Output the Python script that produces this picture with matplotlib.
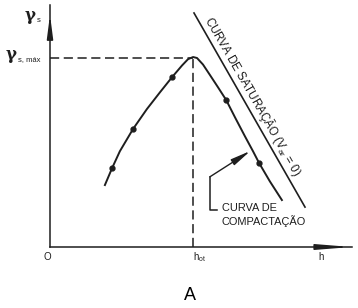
import matplotlib
matplotlib.use("Agg")
import matplotlib.pyplot as plt

plt.rcParams['font.family'] = ['Liberation Sans', 'DejaVu Sans']
plt.rcParams['mathtext.fontset'] = 'custom'
plt.rcParams['mathtext.rm'] = 'Liberation Sans'
plt.rcParams['mathtext.it'] = 'Liberation Sans:italic'

# compaction curve (h, gamma_s), schematic units
h_curve = [1.83, 2.07, 2.33, 2.77, 3.23, 3.67, 4.07, 4.40, 4.60, 4.77, 4.90,
           5.10, 5.33, 5.60, 5.87, 6.17, 6.50, 6.77, 6.97, 7.33, 7.73]
g_curve = [2.56, 3.26, 3.96, 4.88, 5.70, 6.40, 7.02, 7.50, 7.76, 7.85, 7.81,
           7.54, 7.11, 6.60, 6.08, 5.35, 4.57, 3.95, 3.47, 2.71, 1.94]
# measured points on the curve
h_pts = [2.07, 2.77, 4.07, 5.87, 6.97]
g_pts = [3.26, 4.88, 7.02, 6.08, 3.47]
# saturation line (Var = 0)
h_sat = [4.80, 8.50]
g_sat = [9.67, 1.65]
# optimum
h_ot = 4.77
g_max = 7.82

ink = '#1e1e1e'

fig = plt.figure(figsize=(3.58, 3.08), dpi=100)
ax = fig.add_axes([50 / 358, 61 / 308, 300 / 358, 242 / 308])
ax.set_xlim(0, 10)
ax.set_ylim(0, 10)
ax.axis('off')

# axes with arrows
ax.plot([0, 0], [0, 10], color=ink, lw=1.1, clip_on=False)
ax.annotate('', xy=(0, 9.6), xytext=(0, 9.0),
            arrowprops=dict(arrowstyle='-|>,head_length=1.4,head_width=0.18',
                            color=ink, lw=1.1, shrinkA=0, shrinkB=0, mutation_scale=10),
            annotation_clip=False)
ax.plot([0, 10.05], [0, 0], color=ink, lw=1.1, clip_on=False)
ax.annotate('', xy=(10.05, 0), xytext=(9.2, 0),
            arrowprops=dict(arrowstyle='-|>,head_length=2.0,head_width=0.16',
                            color=ink, lw=1.1, shrinkA=0, shrinkB=0, mutation_scale=10),
            annotation_clip=False)

# dashed guides to the optimum
ax.plot([0, h_ot], [g_max, g_max], color=ink, lw=1.1, dashes=(6, 3))
ax.plot([h_ot, h_ot], [0, g_max], color=ink, lw=1.1, dashes=(6, 3))

# curves
ax.plot(h_curve, g_curve, color=ink, lw=1.4, solid_joinstyle='round')
ax.plot(h_pts, g_pts, 'o', color=ink, ms=3.5)
ax.plot(h_sat, g_sat, color=ink, lw=1.2)

# saturation label along the line
ax.text(5.25, 9.5, r'CURVA DE SATURAÇÃO (V$_{\mathrm{ar}}$ = 0)', rotation=-60.2,
        rotation_mode='anchor', ha='left', va='center', fontsize=8.3, color=ink)

# compaction label with pointer
ax.plot([5.55, 5.33, 5.33], [1.53, 1.53, 2.9], color=ink, lw=1.1)
ax.annotate('', xy=(6.68, 3.97), xytext=(5.33, 2.9),
            arrowprops=dict(arrowstyle='-|>,head_length=1.2,head_width=0.2',
                            color=ink, lw=1.0, shrinkA=0, shrinkB=0, mutation_scale=10))
ax.text(5.73, 1.32, 'CURVA DE\nCOMPACTAÇÃO', ha='left', va='center',
        fontsize=7.9, color=ink, linespacing=1.25)

# axis labels
ax.text(-0.67, 9.55, 'γ', ha='center', va='center', fontsize=12,
        family='DejaVu Serif', weight='bold', color=ink)
ax.text(-0.38, 9.35, 's', ha='center', va='center', fontsize=5.5, color=ink)
ax.text(-1.3, g_max + 0.12, 'γ', ha='center', va='center', fontsize=12,
        family='DejaVu Serif', weight='bold', color=ink)
ax.text(-1.05, g_max - 0.08, 's, máx', ha='left', va='center', fontsize=5.5, color=ink)
ax.text(-0.1, -0.42, 'O', ha='center', va='center', fontsize=7, color=ink)
ax.text(h_ot, -0.42, r'h$_{\mathrm{ot}}$', ha='left', va='center', fontsize=7, color=ink)
ax.text(9.05, -0.42, 'h', ha='center', va='center', fontsize=7, color=ink)

fig.text(190 / 358, 1 - 295 / 308, 'A', ha='center', va='center', fontsize=13, color='black')

fig.savefig('out.png', dpi=100, facecolor='white')
